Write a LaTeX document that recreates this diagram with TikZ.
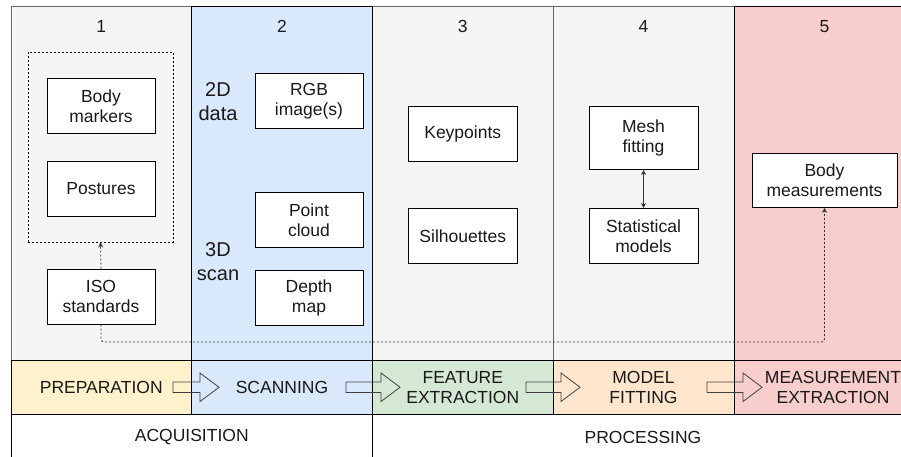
\documentclass[tikz,border=0pt]{standalone}
\usepackage{fontspec}
\setmainfont{Liberation Sans}
\usetikzlibrary{arrows.meta,positioning}

\definecolor{greyfill}{HTML}{F5F5F5}
\definecolor{greyline}{HTML}{666666}
\definecolor{bluefill}{HTML}{DAE8FC}
\definecolor{redfill}{HTML}{F8CECC}
\definecolor{yellowfill}{HTML}{FFF2CC}
\definecolor{greenfill}{HTML}{D5E8D4}
\definecolor{orangefill}{HTML}{FFE6CC}

\begin{document}
\begin{tikzpicture}[x=1pt,y=-1pt,line width=1pt,
    every node/.style={font=\fontsize{17.5}{20}\selectfont,text=black!90},
    box/.style={draw,fill=white,minimum width=108pt,minimum height=55pt,align=center,inner sep=2pt},
    phase/.style={draw,minimum height=53.5pt,align=center,inner sep=0pt},
    bigtext/.style={font=\fontsize{20}{24}\selectfont,align=center},
    blockarr/.style={draw=black!75,line width=0.8pt},
    tip/.style={-{Stealth[length=5pt,width=5pt]}},
    dotline/.style={draw=black!80,line width=0.8pt,dash pattern=on 2pt off 2pt,tip}]

  \useasboundingbox (0,0) rectangle (901,457);
  \clip (0,0) rectangle (901,457);

  % swimlanes
  \foreach \xa/\xb/\fc/\dc [count=\n] in {11/191.5/greyfill/greyline,372.5/553/greyfill/greyline,
      553/734/greyfill/greyline,191.5/372.5/bluefill/black,734/915/redfill/black} {
    \draw[draw=\dc,fill=\fc] (\xa,7) rectangle (\xb,360.5);
  }
  \foreach \x [count=\n] in {101.25,282,462.75,643.5,824.5}
    \node[anchor=base] (num\n) at (\x,32.5) {\n};

  % phase row
  \node[phase,fill=yellowfill,minimum width=180.5pt] (prep) at (101.25,387.25) {PREPARATION};
  \node[phase,fill=bluefill,minimum width=181pt] (scan) at (282,387.25) {SCANNING};
  \node[phase,fill=greenfill,minimum width=180.5pt] (feat) at (462.75,387.25) {FEATURE\\EXTRACTION};
  \node[phase,fill=orangefill,minimum width=181pt] (fit) at (643.5,387.25) {MODEL\\FITTING};
  \node[phase,fill=redfill,minimum width=198pt] (meas) at (833,387.25) {MEASUREMENT\\EXTRACTION};

  \foreach \a/\b in {173/219,346/400,526/580,707/762}
    \draw[blockarr] (\a,382) -- (\b-19,382) -- (\b-19,373) -- (\b,387.25)
      -- (\b-19,401.5) -- (\b-19,392.5) -- (\a,392.5) -- cycle;

  % stages
  \node[draw,minimum width=361.5pt,minimum height=46pt] (acq) at (191.75,437) {ACQUISITION};
  \node[draw,minimum width=541pt,minimum height=46pt] (proc) at (643,437) {PROCESSING};

  % 1
  \node[draw,dash pattern=on 2pt off 2pt,line width=0.8pt,minimum width=145pt,minimum height=190pt] (prepgroup) at (100.5,147) {};
  \node[box] (markers) at (101,106.5) {Body\\markers};
  \node[box,below=26.5pt of markers] (postures) {Postures};
  \node[box] (iso) at (101,296.5) {ISO\\standards};

  % 2
  \node[bigtext] (data2d) at (218,102) {2D\\data};
  \node[bigtext] (scan3d) at (218,262) {3D\\scan};
  \node[box] (rgb) at (309,101) {RGB\\image(s)};
  \node[box] (cloud) at (309,220) {Point\\cloud};
  \node[box,below=22pt of cloud] (depth) {Depth\\map};

  % 3
  \node[box,minimum width=109pt] (keypts) at (462.75,134) {Keypoints};
  \node[box,minimum width=109pt,below=46pt of keypts] (silh) {Silhouettes};

  % 4
  \node[box,minimum width=109pt,minimum height=63pt] (mesh) at (643.5,138) {Mesh\\fitting};
  \node[box,minimum width=109pt,below=38pt of mesh] (stat) {Statistical\\models};

  % 5
  \node[box,minimum width=145pt,minimum height=54pt] (bodymeas) at (824.5,180.3) {Body\\measurements};

  \draw[dotline] (iso.north) -- (prepgroup.south);
  \draw[dotline,rounded corners=3pt] (iso.south) -- ++(0,17.5) -| (bodymeas.south);
  \draw[draw=black!80,line width=0.8pt,{Stealth[length=5pt,width=5pt]}-{Stealth[length=5pt,width=5pt]}] (mesh.south) -- (stat.north);
\end{tikzpicture}
\end{document}
